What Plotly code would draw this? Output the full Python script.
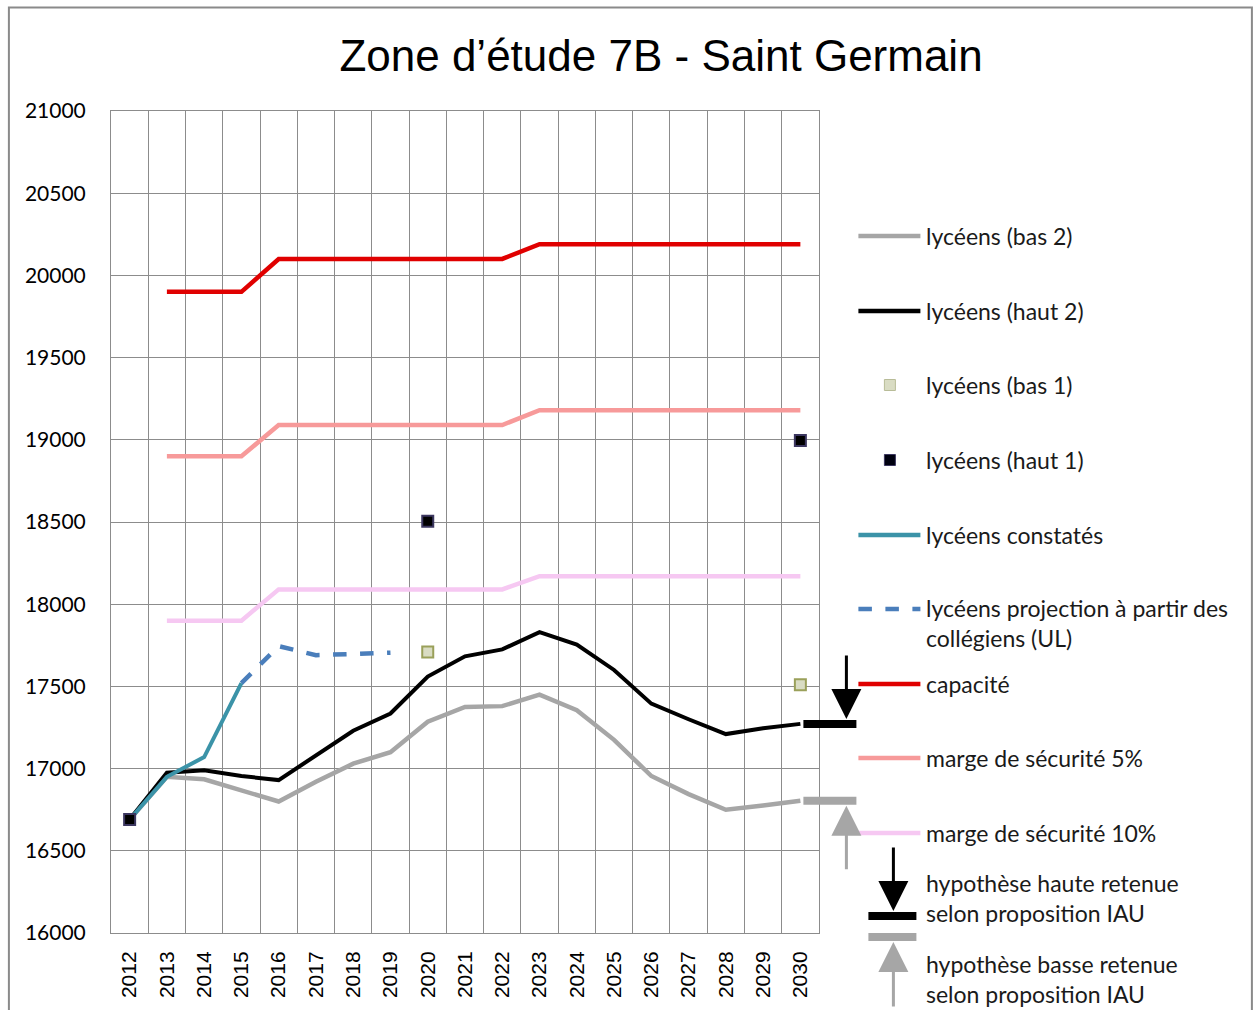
import plotly.graph_objects as go

years = [str(y) for y in range(2012, 2031)]

bas2 = [16690, 16950, 16935, 16870, 16800, 16920, 17030, 17100, 17285, 17375,
        17380, 17450, 17355, 17175, 16955, 16845, 16750, 16775, 16805]
haut2 = [16690, 16975, 16990, 16955, 16930, 17080, 17230, 17335, 17560, 17683,
         17725, 17830, 17755, 17600, 17395, 17300, 17210, 17245, 17272]
bas1 = [None] * 8 + [17710] + [None] * 9 + [17510]
haut1 = [16690] + [None] * 7 + [18505] + [None] * 9 + [18995]
constates = [16690, 16950, 17070, 17520] + [None] * 15
projection = [None] * 3 + [17520, 17745, 17690, 17700, 17705] + [None] * 11
capacite = [None] + [19900] * 3 + [20100] * 7 + [20190] * 8
marge5 = [None] + [18900] * 3 + [19090] * 7 + [19180] * 8
marge10 = [None] + [17900] * 3 + [18090] * 7 + [18170] * 8

y_ticks = list(range(16000, 21001, 500))

title_text = "Zone d\u2019étude 7B - Saint Germain"
legend_labels = [
    "lycéens (bas 2)", "lycéens (haut 2)", "lycéens (bas 1)", "lycéens (haut 1)",
    "lycéens constatés", "lycéens projection à partir des<br>collégiens (UL)",
    "capacité", "marge de sécurité 5%", "marge de sécurité 10%",
]
hyp_haute = "hypothèse haute retenue<br>selon proposition IAU"
hyp_basse = "hypothèse basse retenue<br>selon proposition IAU"

C_GRAY = "#a6a6a6"
C_BLACK = "#000000"
C_TEAL = "#3b93a8"
C_DASH = "#4a7ebb"
C_RED = "#e00000"
C_PINK = "#f79a9a"
C_LPINK = "#f6c8f2"
GRID = "#8c8c8c"

W_FIG, H_FIG = 1255, 1010
PL, PR, PT, PB = 110.6, 818.6, 111, 933
PW, PH = PR - PL, PB - PT


def px(x):
    return (x - PL) / PW


def py(y):
    return (PB - y) / PH


fig = go.Figure()

line_series = [
    (bas2, C_GRAY, 4.5, "solid"),
    (haut2, C_BLACK, 4, "solid"),
    (constates, C_TEAL, 4, "solid"),
    (projection, C_DASH, 4.5, "dash"),
    (capacite, C_RED, 4.5, "solid"),
    (marge5, C_PINK, 4.5, "solid"),
    (marge10, C_LPINK, 4.5, "solid"),
]
for vals, col, w, dash in line_series:
    fig.add_trace(go.Scatter(x=years, y=vals, mode="lines",
                             line=dict(color=col, width=w, dash=dash),
                             connectgaps=False, showlegend=False))

fig.add_trace(go.Scatter(x=years, y=bas1, mode="markers",
                         marker=dict(symbol="square", size=11, color="#d9dcc3",
                                     line=dict(color="#9aa05a", width=2)),
                         showlegend=False))
fig.add_trace(go.Scatter(x=years, y=haut1, mode="markers",
                         marker=dict(symbol="square", size=11, color="#000000",
                                     line=dict(color="#3c3760", width=2)),
                         showlegend=False))

shapes = []
annotations = []

ARROW = dict(arrowhead=2, arrowsize=2.0, arrowwidth=3)

# hypothesis bars at 2030 and arrows
shapes.append(dict(type="line", xref="paper", yref="y", x0=px(803), x1=px(856),
                   y0=haut2[-1], y1=haut2[-1], line=dict(color=C_BLACK, width=8)))
shapes.append(dict(type="line", xref="paper", yref="y", x0=px(803), x1=px(856),
                   y0=bas2[-1], y1=bas2[-1], line=dict(color=C_GRAY, width=8)))
annotations.append(dict(xref="paper", yref="y", x=px(846), y=haut2[-1], text="",
                        showarrow=True, ax=0, ay=-70, arrowcolor=C_BLACK,
                        standoff=5, **ARROW))
annotations.append(dict(xref="paper", yref="y", x=px(846), y=bas2[-1], text="",
                        showarrow=True, ax=0, ay=70, arrowcolor=C_GRAY,
                        standoff=5, **ARROW))

# manual legend
LEG_FONT = dict(family="Lato, Carlito, Calibri, sans-serif", size=23, color="#1a1a1a")
rows = [236, 311, 385, 460, 535, 609, 684, 758, 833]
styles = [
    ("line", C_GRAY, "solid"), ("line", C_BLACK, "solid"), ("bas1", None, None),
    ("haut1", None, None), ("line", C_TEAL, "solid"), ("line", C_DASH, "dash"),
    ("line", C_RED, "solid"), ("line", C_PINK, "solid"), ("line", C_LPINK, "solid"),
]
for ry, lab, (kind, col, dash) in zip(rows, legend_labels, styles):
    if kind == "line":
        shapes.append(dict(type="line", xref="paper", yref="paper",
                           x0=px(858), x1=px(920), y0=py(ry), y1=py(ry),
                           line=dict(color=col, width=4.5, dash=dash)))
    elif kind == "bas1":
        shapes.append(dict(type="rect", xref="paper", yref="paper",
                           x0=px(884), x1=px(895), y0=py(ry - 5.5), y1=py(ry + 5.5),
                           fillcolor="#d9dcc3", line=dict(color="#b8bc98", width=1)))
    else:
        shapes.append(dict(type="rect", xref="paper", yref="paper",
                           x0=px(884), x1=px(895), y0=py(ry - 5.5), y1=py(ry + 5.5),
                           fillcolor="#000010", line=dict(color="#3c3760", width=1)))
    two = "<br>" in lab
    annotations.append(dict(xref="paper", yref="paper", x=px(924), y=py(ry),
                            text=lab, showarrow=False, xanchor="left",
                            yanchor="top" if two else "middle",
                            yshift=17 if two else 0,
                            align="left", font=LEG_FONT))

# bottom legend entries (hypotheses)
shapes.append(dict(type="line", xref="paper", yref="paper", x0=px(868), x1=px(916),
                   y0=py(916), y1=py(916), line=dict(color=C_BLACK, width=8)))
shapes.append(dict(type="line", xref="paper", yref="paper", x0=px(868), x1=px(916),
                   y0=py(937), y1=py(937), line=dict(color=C_GRAY, width=8)))
annotations.append(dict(xref="paper", yref="paper", x=px(893), y=py(911), text="",
                        showarrow=True, ax=0, ay=-65, arrowcolor=C_BLACK,
                        standoff=0, **ARROW))
annotations.append(dict(xref="paper", yref="paper", x=px(893), y=py(942), text="",
                        showarrow=True, ax=0, ay=66, arrowcolor=C_GRAY,
                        standoff=0, **ARROW))
annotations.append(dict(xref="paper", yref="paper", x=px(924), y=py(898),
                        text=hyp_haute, showarrow=False, xanchor="left",
                        yanchor="middle", align="left", font=LEG_FONT))
annotations.append(dict(xref="paper", yref="paper", x=px(924), y=py(979),
                        text=hyp_basse, showarrow=False, xanchor="left",
                        yanchor="middle", align="left", font=LEG_FONT))

# outer frame
shapes.append(dict(type="rect", xref="paper", yref="paper",
                   x0=px(8.5), x1=px(1251.5), y0=py(1030), y1=py(7.5),
                   line=dict(color="#8a8a8a", width=2), fillcolor="rgba(0,0,0,0)"))

fig.update_layout(
    width=W_FIG, height=H_FIG,
    margin=dict(l=PL, r=W_FIG - PR, t=PT, b=H_FIG - PB, pad=0, autoexpand=False),
    paper_bgcolor="white", plot_bgcolor="white",
    title=dict(text=title_text, x=661 / W_FIG, xanchor="center", xref="container",
               y=1 - 56 / H_FIG, yanchor="middle", yref="container",
               font=dict(family="Liberation Sans, Arial, sans-serif", size=44, color="#000000")),
    shapes=shapes, annotations=annotations, showlegend=False,
)
fig.update_xaxes(type="category", categoryorder="array", categoryarray=years,
                 range=[-0.5, 18.5], tickson="boundaries", showgrid=True,
                 gridcolor=GRID, gridwidth=1, showline=True, linecolor=GRID,
                 linewidth=1, mirror=True, ticks="", tickangle=-90,
                 ticklabelstandoff=9, automargin=False,
                 tickfont=dict(family="Liberation Sans, Arial, sans-serif", size=21,
                               color="#000000"))
fig.update_yaxes(range=[16000, 21000], tickvals=y_ticks, showgrid=True,
                 gridcolor=GRID, gridwidth=1, showline=True, linecolor=GRID,
                 linewidth=1, mirror=True, ticks="", zeroline=False,
                 ticklabelstandoff=20, tickformat="d", automargin=False,
                 tickfont=dict(family="Lato, Carlito, Calibri, sans-serif", size=21,
                               color="#000000"))

fig.write_html("out.html", config={"displayModeBar": False},
               post_script="document.body.style.margin='0';document.body.style.padding='0';")
